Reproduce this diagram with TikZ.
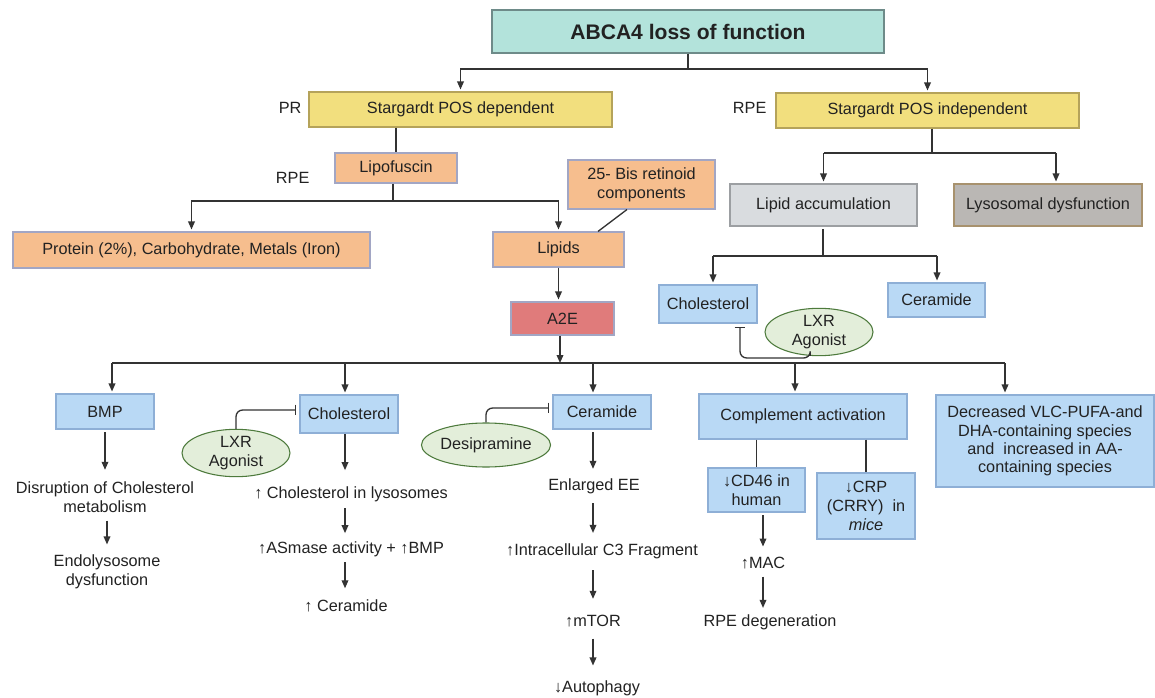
\documentclass[tikz,border=0pt]{standalone}
\usepackage{fontspec}
\setmainfont{Liberation Sans}
\usetikzlibrary{arrows.meta,shapes.geometric}
\definecolor{cteal}{HTML}{B3E3DB}
\definecolor{cteald}{HTML}{6E8B89}
\definecolor{cyel}{HTML}{F2DF7E}
\definecolor{cyeld}{HTML}{B5A35A}
\definecolor{corg}{HTML}{F6BE8E}
\definecolor{corgd}{HTML}{A2A6C4}
\definecolor{cred}{HTML}{E07B7B}
\definecolor{cblue}{HTML}{B9D9F5}
\definecolor{cblued}{HTML}{8EAFD6}
\definecolor{cgray}{HTML}{D9DCDF}
\definecolor{cgrayd}{HTML}{9C9FA2}
\definecolor{cdgray}{HTML}{BAB7B4}
\definecolor{cdgrayd}{HTML}{A8926E}
\definecolor{cgreen}{HTML}{E3EEDA}
\definecolor{cgreend}{HTML}{4D7A3C}
\definecolor{cline}{HTML}{333333}
\definecolor{ctext}{HTML}{222222}
\newcommand\fs{\fontsize{12.2}{14.2}\selectfont}
\begin{document}
\begin{tikzpicture}[x=0.75pt,y=-0.75pt,
  wh/.style 2 args={minimum width=#1*0.75pt, minimum height=#2*0.75pt},
  box/.style={draw, line width=0.8pt, inner sep=0pt, align=center, font=\fs, text=ctext},
  tealbox/.style={box, fill=cteal, draw=cteald},
  yelbox/.style={box, fill=cyel, draw=cyeld},
  orgbox/.style={box, fill=corg, draw=corgd},
  redbox/.style={box, fill=cred, draw=corgd},
  bluebox/.style={box, fill=cblue, draw=cblued},
  graybox/.style={box, fill=cgray, draw=cgrayd},
  dgraybox/.style={box, fill=cdgray, draw=cdgrayd},
  oval/.style={ellipse, draw=cgreend, fill=cgreen, line width=0.8pt, inner sep=0pt, align=center, font=\fs, text=ctext},
  lbl/.style={font=\fs, align=center, inner sep=1pt, text=ctext},
  ln/.style={draw=cline, line width=1pt},
  arr/.style={ln, -{Triangle[length=6pt,width=5pt]}, shorten >=1.5pt},
  inh/.style={ln, -{Bar[width=8pt]}, shorten >=2.5pt, rounded corners=5pt},
]
\useasboundingbox (0,0) rectangle (1155,698);
\fill[white] (0,0) rectangle (1155,698);

% top level
\node[tealbox, wh={392}{43}, font=\fontsize{15.8}{18}\selectfont\bfseries] (top) at (688,31.5) {ABCA4 loss of function};
\node[yelbox, wh={303}{35}] (dep) at (460.5,109.5) {Stargardt POS dependent};
\node[yelbox, wh={303}{35}] (indep) at (927.5,110.5) {Stargardt POS independent};
\node[lbl, anchor=east] (pr) at (303,108) {PR};
\node[lbl, anchor=east] (rper) at (768,108) {RPE};
\node[lbl, anchor=east] (rpel) at (311,178) {RPE};

% left branch
\node[orgbox, wh={122}{30}] (lipo) at (396,168) {Lipofuscin};
\node[orgbox, wh={357}{36}] (prot) at (191.5,250) {Protein (2\%), Carbohydrate, Metals (Iron)};
\node[orgbox, wh={131}{35}] (lipids) at (558.5,249.5) {Lipids};
\node[orgbox, wh={147}{49}] (bis) at (641.5,184.5) {25- Bis retinoid\\components};
\node[redbox, wh={103}{33}] (a2e) at (562.5,318.5) {A2E};

% right branch
\node[graybox, wh={187}{42}] (lipacc) at (823.5,205) {Lipid accumulation};
\node[dgraybox, wh={188}{42}] (lyso) at (1048,205) {Lysosomal dysfunction};
\node[bluebox, wh={98}{38}] (chol1) at (708,304) {Cholesterol};
\node[bluebox, wh={97}{34}] (cer1) at (936.5,300) {Ceramide};
\node[oval, wh={108}{40}] (lxr1) at (819,332) {LXR\\Agonist};

% bottom row
\node[bluebox, wh={98}{35}] (bmp) at (105,411.5) {BMP};
\node[bluebox, wh={98}{38}] (chol2) at (349,414) {Cholesterol};
\node[oval, wh={108}{44}] (lxr2) at (236,453) {LXR\\Agonist};
\node[oval, wh={106}{44}] (desi) at (486,445) {Desipramine};
\node[bluebox, wh={98}{34}] (cer2) at (602,412) {Ceramide};
\node[bluebox, wh={208}{45}] (comp) at (803,416.5) {Complement activation};
\node[bluebox, wh={218}{92}, font=\fontsize{12.2}{13.8}\selectfont] (dec) at (1045,441) {Decreased VLC-PUFA-and\\DHA-containing species\\and\ \ increased in AA-\\containing species};
\node[bluebox, wh={97}{44}] (cd46) at (756.5,490) {↓CD46 in\\human};
\node[bluebox, wh={98}{66}] (crp) at (866,506) {↓CRP\\(CRRY)\ \ in\\\textit{mice}};

% text chains
\node[lbl] (disr) at (105,497.5) {Disruption of Cholesterol\\metabolism};
\node[lbl] (endo) at (107,572) {Endolysosome\\dysfunction};
\node[lbl] (cl) at (351,494) {↑ Cholesterol in lysosomes};
\node[lbl] (asm) at (351,549) {↑ASmase activity + ↑BMP};
\node[lbl] (cer3) at (346,606) {↑ Ceramide};
\node[lbl] (ee) at (594,486) {Enlarged EE};
\node[lbl] (c3) at (602,551) {↑Intracellular C3 Fragment};
\node[lbl] (mtor) at (593,621) {↑mTOR};
\node[lbl] (auto) at (597,688) {↓Autophagy};
\node[lbl] (mac) at (763,563) {↑MAC};
\node[lbl] (rped) at (770,622) {RPE degeneration};

% branch coordinates
\coordinate (j1) at (688,69);
\coordinate (j2) at (393,201);
\coordinate (j3) at (932,153);
\coordinate (j4) at (823,256);
\coordinate (h) at (560,363);
\coordinate (t1) at (112,363);
\coordinate (t2) at (345,363);
\coordinate (t3) at (593,363);
\coordinate (t4) at (795,363);
\coordinate (t5) at (1005,363);
\coordinate (k1) at (1056,153);
\coordinate (k2) at (713,256);
\coordinate (k3) at (937,256);
\coordinate (i1) at (740,358);

% connectors top
\draw[ln] (top.south) -- (j1);
\draw[arr] (j1) -| (dep.north);
\draw[arr] (j1) -| (indep.north);
\draw[ln] (dep.south -| lipo.north) -- (lipo.north);
\draw[ln] (lipo.south -| j2) -- (j2);
\draw[arr] (j2) -| (prot.north);
\draw[arr] (j2) -| (lipids.north);
\draw[ln] ([xshift=-10.9pt]bis.south) -- ([xshift=29.6pt]lipids.north);
\draw[arr] (lipids.south) -- (lipids.south |- a2e.north);
\draw[arr, shorten >=0pt] (a2e.south -| h) -- (h);
\draw[ln] (t1) -- (t5);
\draw[arr] (t1) -- (t1 |- bmp.north);
\draw[arr] (t2) -- (t2 |- chol2.north);
\draw[arr] (t3) -- (t3 |- cer2.north);
\draw[arr] (t4) -- (t4 |- comp.north);
\draw[arr] (t5) -- (t5 |- dec.north);

% right
\draw[ln] (indep.south -| j3) -- (j3);
\draw[ln] (k1) -- (j3 -| lipacc.north);
\draw[arr] (j3 -| lipacc.north) -- (lipacc.north);
\draw[arr] (k1) -- (k1 |- lyso.north);
\draw[ln, shorten <=2.2pt] (lipacc.south -| j4) -- (j4);
\draw[ln] (k2) -- (k3);
\draw[arr] (k2) -- (k2 |- chol1.north);
\draw[arr] (k3) -- (k3 |- cer1.north);
\draw[inh] (lxr1.250) |- (i1) -- (i1 |- chol1.south);

% inhibitors bottom
\draw[inh] (lxr2.north) |- ([yshift=3pt]chol2.west);
\draw[inh] (desi.north) |- ([yshift=3pt]cer2.west);

% chains
\draw[arr, shorten <=2.2pt, shorten >=8pt] (bmp.south) -- (bmp.south |- disr.north);
\draw[arr, shorten <=4.5pt, shorten >=6.7pt] (disr.south -| endo.north) -- (endo.north);
\draw[arr, shorten <=0.5pt, shorten >=11pt] (chol2.south -| t2) -- (t2 |- cl.north);
\draw[arr, shorten <=3.7pt, shorten >=5pt] (cl.south -| t2) -- (t2 |- asm.north);
\draw[arr, shorten <=3pt, shorten >=7.5pt] (asm.south -| t2) -- (t2 |- cer3.north);
\draw[arr, shorten <=2pt, shorten >=6pt] (cer2.south -| t3) -- (t3 |- ee.north);
\draw[arr, shorten <=6pt, shorten >=6.7pt] (ee.south -| t3) -- (t3 |- c3.north);
\draw[arr, shorten <=7.5pt, shorten >=11pt] (c3.south -| t3) -- (t3 |- mtor.north);
\draw[arr, shorten <=7.5pt, shorten >=10pt] (mtor.south -| t3) -- (t3 |- auto.north);
\draw[ln] (comp.south -| cd46.north) -- (cd46.north);
\draw[ln] (comp.south -| crp.north) -- (crp.north);
\draw[arr, shorten <=2pt, shorten >=6.7pt] (cd46.south -| mac) -- (mac.north);
\draw[arr, shorten <=4.5pt, shorten >=3.7pt] (mac.south) -- (mac.south |- rped.north);
\end{tikzpicture}
\end{document}
